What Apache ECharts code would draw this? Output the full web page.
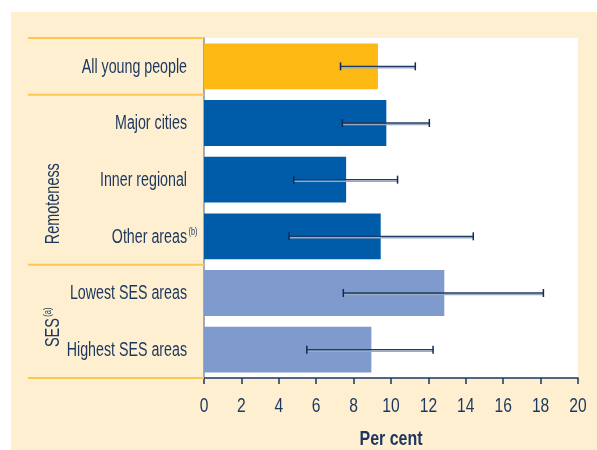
<!DOCTYPE html>
<html>
<head>
<meta charset="utf-8">
<script src="https://cdn.jsdelivr.net/npm/echarts@6/dist/echarts.min.js"></script>
<style>
  html, body { margin: 0; padding: 0; background: #fff; }
  #chart { width: 597px; height: 450px; }
</style>
</head>
<body>
<div id="chart"></div>
<script>
// data
const categories = ["All young people", "Major cities", "Inner regional", "Other areas", "Lowest SES areas", "Highest SES areas"];
const values = [9.3, 9.75, 7.6, 9.45, 12.85, 8.95];
const errLow = [7.3, 7.4, 4.8, 4.55, 7.45, 5.5];
const errHigh = [11.3, 12.05, 10.35, 14.4, 18.15, 12.25];
const barColors = ["#fdb913", "#005ca8", "#005ca8", "#005ca8", "#7f9acc", "#7f9acc"];
const xTicks = [0, 2, 4, 6, 8, 10, 12, 14, 16, 18, 20];

// Liberation Sans squeezed horizontally to look like the condensed face of the original
const FONT = "'Liberation Sans', Arial, sans-serif";
const NAVY = "#1b365f";
const LABEL_SCALE = 0.73;

let chart = echarts.init(document.getElementById("chart"));

chart.setOption({
  animation: false,
  textStyle: { fontFamily: FONT },
  grid: {
    left: 204, right: 19, top: 38, bottom: 72,
    show: true, backgroundColor: "#ffffff", borderWidth: 0
  },
  xAxis: {
    type: "value",
    min: xTicks[0],
    max: xTicks[xTicks.length - 1],
    interval: 2,
    axisLine: { show: true, lineStyle: { color: NAVY, width: 1.5 } },
    axisTick: { show: true, length: 6, lineStyle: { color: NAVY, width: 1.5 } },
    axisLabel: { show: false },
    splitLine: { show: false }
  },
  yAxis: {
    type: "category",
    inverse: true,
    data: categories,
    axisLine: { show: true, lineStyle: { color: "#8a909c", width: 1.5 } },
    axisTick: { show: false },
    axisLabel: { show: false }
  },
  series: [
    {
      type: "bar",
      barCategoryGap: "19%",
      data: values.map((v, i) => ({ value: v, itemStyle: { color: barColors[i] } }))
    },
    {
      type: "custom",
      z: 5,
      data: categories.map((c, i) => [i, errLow[i], errHigh[i]]),
      renderItem: function (params, api) {
        const idx = api.value(0);
        const lo = api.coord([api.value(1), idx]);
        const hi = api.coord([api.value(2), idx]);
        const y = lo[1];
        return {
          type: "group",
          children: [
            { type: "line", shape: { x1: lo[0], y1: y + 1.5, x2: hi[0], y2: y + 1.5 },
              style: { stroke: "#9aaabf", lineWidth: 1.5 } },
            { type: "line", shape: { x1: lo[0], y1: y, x2: hi[0], y2: y },
              style: { stroke: "#1f3a66", lineWidth: 1.3 } },
            { type: "line", shape: { x1: lo[0], y1: y - 4, x2: lo[0], y2: y + 4 },
              style: { stroke: "#0f2a55", lineWidth: 1.5 } },
            { type: "line", shape: { x1: hi[0], y1: y - 4, x2: hi[0], y2: y + 4 },
              style: { stroke: "#0f2a55", lineWidth: 1.5 } }
          ]
        };
      }
    }
  ]
});

// background panel, dividers and all text, placed from the chart's scales
function catY(i) {
  return chart.convertToPixel({ yAxisIndex: 0 }, categories[i]);
}
function edge(i) {
  const step = catY(1) - catY(0);
  return catY(0) + (i - 0.5) * step;
}
function textWidth(t, size) {
  return new echarts.graphic.Text({ style: { text: t, fontFamily: FONT, fontSize: size } }).getBoundingRect().width;
}
const groups = [
  { start: 0, end: 0, label: null, shift: 0 },
  { start: 1, end: 3, label: "Remoteness", shift: 24 },
  { start: 4, end: 5, label: "SES{sup|(a)}", shift: 6 }
];
const supStyle = { fontFamily: FONT, fontSize: 10, fill: NAVY, padding: [0, 0, 11, 2] };
const graphics = [
  { type: "rect", z: -10, silent: true, shape: { x: 11, y: 12, width: 586, height: 438 },
    style: { fill: "#fdefcf" } }
];
const cutX = [28, 204];
graphics.push({ type: "line", z: 1, shape: { x1: cutX[0], y1: edge(0), x2: cutX[1], y2: edge(0) },
  style: { stroke: "#fcc94f", lineWidth: 2 } });
groups.forEach(g => {
  const yb = edge(g.end + 1);
  graphics.push({ type: "line", z: 1, shape: { x1: cutX[0], y1: yb, x2: cutX[1], y2: yb },
    style: { stroke: "#fcc94f", lineWidth: 2 } });
  if (g.label) {
    const yc = (edge(g.start) + edge(g.end + 1)) / 2 + g.shift;
    graphics.push({
      type: "text", z: 2, x: 54, y: yc, rotation: Math.PI / 2, scaleX: 0.74,
      style: {
        text: g.label, fontFamily: FONT, fontSize: 19.5, fill: NAVY,
        align: "center", verticalAlign: "middle", rich: { sup: supStyle }
      }
    });
  }
});
// category labels; "Other areas" has a superscript that hangs past the label edge
const plotLeft = chart.convertToPixel({ xAxisIndex: 0 }, 0);
categories.forEach((c, i) => {
  const withSup = c === "Other areas";
  graphics.push({
    type: "text", z: 2,
    x: withSup ? plotLeft - 17 - textWidth(c, 19.5) * LABEL_SCALE : plotLeft - 17,
    y: catY(i) + 1, scaleX: LABEL_SCALE,
    style: {
      text: withSup ? c + "{sup|(b)}" : c,
      fontFamily: FONT, fontSize: 19.5, fill: NAVY,
      align: withSup ? "left" : "right", verticalAlign: "middle",
      rich: { sup: supStyle }
    }
  });
});
// x tick labels
const axisY = catY(categories.length - 1) + (catY(1) - catY(0)) / 2;
xTicks.forEach(t => {
  graphics.push({
    type: "text", z: 2, x: chart.convertToPixel({ xAxisIndex: 0 }, t), y: axisY + 29, scaleX: 0.8,
    style: { text: String(t), fontFamily: FONT, fontSize: 19.5, fill: NAVY, align: "center", verticalAlign: "middle" }
  });
});
// axis title
const midX = (chart.convertToPixel({ xAxisIndex: 0 }, xTicks[0]) + chart.convertToPixel({ xAxisIndex: 0 }, xTicks[xTicks.length - 1])) / 2;
graphics.push({
  type: "text", z: 2, x: midX, y: axisY + 61, scaleX: 0.76,
  style: { text: "Per cent", fontFamily: FONT, fontSize: 21, fontWeight: "bold", fill: NAVY, align: "center", verticalAlign: "middle" }
});
chart.setOption({ graphic: graphics });
</script>
</body>
</html>
